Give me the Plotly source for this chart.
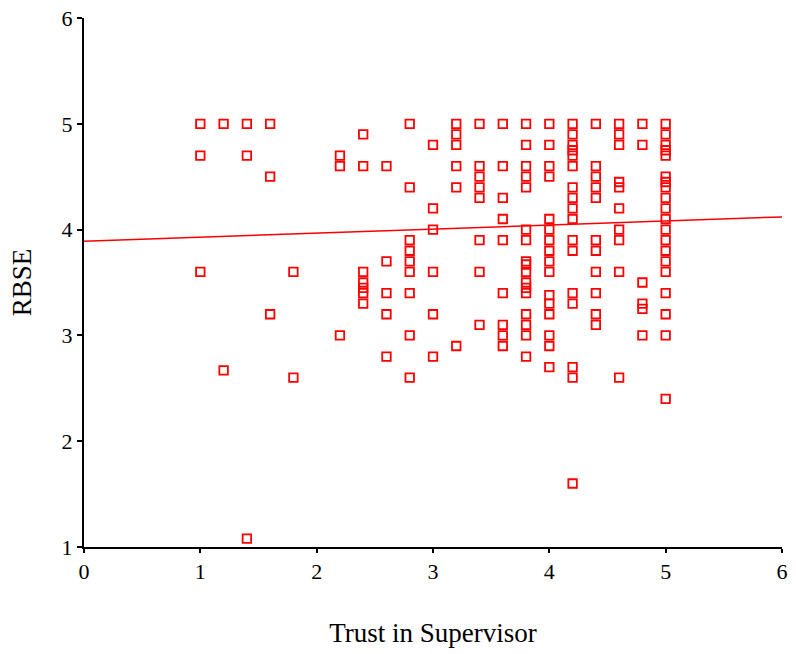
import plotly.graph_objects as go

# Trust in Supervisor (x) and RBSE (y) observations, read column by column
x_vals = (
    [1.0]*3 + [1.2]*2 + [1.4]*3 + [1.6]*3 + [1.8]*2 + [2.2]*3 + [2.4]*7 +
    [2.6]*5 + [2.8]*9 + [3.0]*6 + [3.2]*6 + [3.4]*8 + [3.6]*9 +
    [3.8]*17 + [4.0]*16 + [4.2]*17 + [4.4]*11 + [4.6]*10 + [4.8]*6 + [5.0]*20
)
y_vals = (
    [5.0, 4.7, 3.6] +
    [5.0, 2.67] +
    [5.0, 4.7, 1.08] +
    [5.0, 4.5, 3.2] +
    [3.6, 2.6] +
    [4.7, 4.6, 3.0] +
    [4.9, 4.6, 3.6, 3.5, 3.45, 3.4, 3.3] +
    [4.6, 3.7, 3.4, 3.2, 2.8] +
    [5.0, 4.4, 3.9, 3.8, 3.7, 3.6, 3.4, 3.0, 2.6] +
    [4.8, 4.2, 4.0, 3.6, 3.2, 2.8] +
    [5.0, 4.9, 4.8, 4.6, 4.4, 2.9] +
    [5.0, 4.6, 4.5, 4.4, 4.3, 3.9, 3.6, 3.1] +
    [5.0, 4.6, 4.3, 4.1, 3.9, 3.4, 3.1, 3.0, 2.9] +
    [5.0, 4.8, 4.6, 4.5, 4.4, 4.0, 3.9, 3.7, 3.67, 3.6, 3.5, 3.4, 3.2, 3.1, 3.0, 2.8, 3.45] +
    [5.0, 4.8, 4.6, 4.5, 4.1, 4.0, 3.9, 3.8, 3.7, 3.6, 3.38, 3.3, 3.2, 3.0, 2.9, 2.7] +
    [5.0, 4.9, 4.8, 4.7, 4.6, 4.4, 4.3, 4.2, 4.1, 3.9, 3.8, 3.4, 3.3, 2.7, 2.6, 1.6, 4.75] +
    [5.0, 4.6, 4.5, 4.4, 4.3, 3.9, 3.8, 3.6, 3.4, 3.2, 3.1] +
    [5.0, 4.9, 4.8, 4.45, 4.4, 4.2, 4.0, 3.9, 3.6, 2.6] +
    [5.0, 4.8, 3.5, 3.3, 3.25, 3.0] +
    [5.0, 4.9, 4.8, 4.7, 4.5, 4.4, 4.3, 4.2, 4.1, 4.0, 3.9, 3.8, 3.7, 3.6, 3.4, 3.2, 3.0, 2.4, 4.75, 4.45]
)

# Fitted regression line endpoints
fit_x = [0, 6]
fit_y = [3.89, 4.12]

x_ticks = [0, 1, 2, 3, 4, 5, 6]
y_ticks = [1, 2, 3, 4, 5, 6]

SERIF = "Liberation Serif, Times New Roman, serif"

fig = go.Figure()
fig.add_trace(go.Scatter(
    x=x_vals, y=y_vals, mode="markers",
    marker=dict(symbol="square-open", size=8.5, color="#ff0000",
                line=dict(width=1.8, color="#ff0000")),
    showlegend=False, cliponaxis=False,
))
fig.add_trace(go.Scatter(
    x=fit_x, y=fit_y, mode="lines",
    line=dict(color="#ff0000", width=1.5),
    showlegend=False,
))

axis_font = dict(family=SERIF, size=22, color="black")
fig.update_layout(
    width=796, height=654,
    margin=dict(l=84, r=14, t=18, b=107, autoexpand=False),
    paper_bgcolor="white", plot_bgcolor="white",
    font=dict(family=SERIF, color="black"),
    xaxis=dict(
        range=[0, 6], tickvals=x_ticks, ticktext=[str(t) for t in x_ticks],
        showgrid=False, zeroline=False, showline=True, linecolor="black", linewidth=2,
        ticks="outside", ticklen=4, tickwidth=2, tickcolor="black",
        tickfont=axis_font, automargin=False,
        title=dict(text="Trust in Supervisor", font=dict(family=SERIF, size=27), standoff=40),
    ),
    yaxis=dict(
        range=[1, 6], tickvals=y_ticks, ticktext=[str(t) for t in y_ticks],
        showgrid=False, zeroline=False, showline=True, linecolor="black", linewidth=2,
        ticks="outside", ticklen=5, tickwidth=2, tickcolor="black",
        tickfont=axis_font, automargin=False,
        title=dict(text="RBSE", font=dict(family=SERIF, size=27), standoff=22),
    ),
)
fig.write_html("out.html")
